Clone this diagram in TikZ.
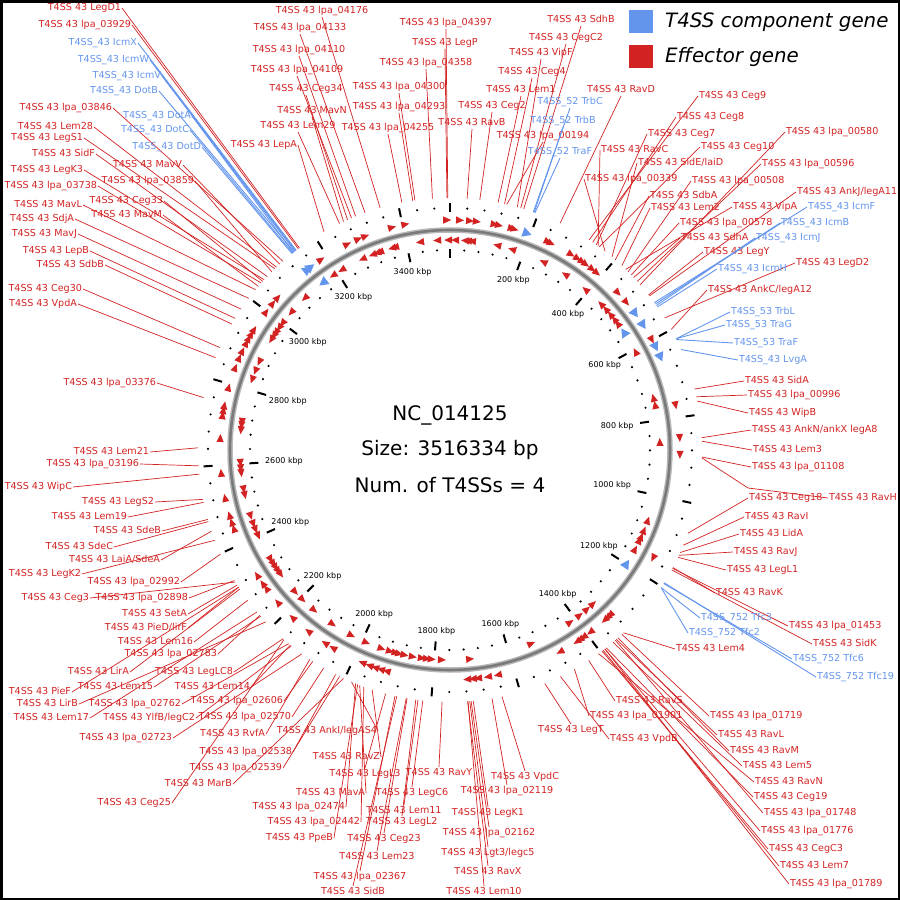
\documentclass[tikz,border=0pt]{standalone}
\usepackage{fontspec}
\setmainfont{DejaVu Sans}
\definecolor{effred}{RGB}{211,34,34}
\definecolor{compblue}{RGB}{100,149,237}
\begin{document}
\begin{tikzpicture}[x=1pt, y=-1pt,
    lab/.style = {font=\fontsize{9.6}{11}\selectfont, inner sep=0.8pt, text height=7.3pt, text depth=2.1pt},
    efflab/.style = {lab, text=effred},
    complab/.style = {lab, text=compblue},
    efflead/.style = {draw=effred, line width=0.7pt},
    complead/.style = {draw=compblue, line width=0.9pt},
    kbp/.style = {font=\fontsize{8}{9}\selectfont, inner sep=0.5pt},
    tickln/.style = {line width=2pt, black},
    centre/.style = {font=\fontsize{20}{24}\selectfont},
    legtext/.style = {font=\fontsize{19.8}{22}\selectfont\itshape, anchor=west, inner sep=0pt}
  ]
  \useasboundingbox (0,0) rectangle (900,900);
  \draw[line width=2.5pt] (1.25,1.25) rectangle (898.75,898.75);

  % backbone
  \draw[line width=5.5pt, black!28] (450,450) circle (220);
  \draw[line width=2.6pt, black!52] (450,450) circle (220);

  % ticks every 40 kbp, dashes every 200 kbp
  \foreach \k in {0,40,...,3480} {
    \pgfmathsetmacro\a{\k/3516.334*360}
    \pgfmathtruncatemacro\m{mod(\k,200)}
    \ifnum\m=0
      \draw[tickln] ([shift={(450,450)}]\a-90:192) -- ([shift={(450,450)}]\a-90:201);
      \draw[tickln] ([shift={(450,450)}]\a-90:238) -- ([shift={(450,450)}]\a-90:247);
    \else
      \fill ([shift={(450,450)}]\a-90:200) circle (1.2);
      \fill ([shift={(450,450)}]\a-90:242) circle (1.2);
    \fi
  }
  \foreach \k in {200,400,...,3400} {
    \pgfmathsetmacro\a{\k/3516.334*360}
    \pgfmathsetmacro\an{90-\a}
    \node[kbp, anchor=\an] (kb\k) at ([shift={(450,450)}]\a-90:186) {\k\ kbp};
  }

  % effector genes, outer strand (clockwise) and inner strand
  \foreach \t in {325.9,333.5,336.5,338.4,345.4,348.8,359.3,2.5,5,6.7,11.2,12.3,15.6,16.3,25.2,26.1,31.8,33.7,35.1,36.2,38.2,39.7,46.9,50.1,61.4,78.8,87,91.2,118,135.9,136.8,137.7,142.4,144.5,145.6,146.5,151.4,168,170.5,173,174.3,175.7,196,197.5,199,200.5,202.4,210.6,212.9,218,223.2,228.5,233,234.5,237,250,251.7,253.5,258,264.3,273,278.7,280,281.2,285.8,291,293.6,295.5,297.7,299,300.3,301.6,306.9,309.6,311.5}
    \fill[effred, shift={(450,450)}, rotate=-\t] (4,-230) -- (-4,-233.6) -- (-4,-226.4) -- cycle;
  \foreach \t in {316.3,326.2,329,335.4,338.4,339.7,340.5,344,344.8,351.8,356.5,359.5,1.4,4.1,4.9,6,13,17.2,26.4,33.3,40.2,46,47.9,49.8,51.5,53,62.1,75.6,77.6,87.8,109.6,112.5,114.4,115.5,118.2,137.1,139.3,141.9,145.1,157.2,174.5,182.2,185,186.3,187.7,190.2,192.5,194,195,196.6,199,203.5,208,214,220.3,224.6,227.5,233.7,234.8,236,237.2,238.6,245.9,247.7,249.4,251.7,257.6,259.2,263.7,265,266.5,275.4,276.8,277.7,289.6,292.1,294.8,301.7,303,304,305.6,307.1,310.9}
    \fill[effred, shift={(450,450)}, rotate=-\t] (-4,-210) -- (4,-213.6) -- (4,-206.4) -- cycle;
  % T4SS components
  \foreach \t in {321.6,322.6,19.5,53.5,57,63.3,66.1}
    \fill[compblue, shift={(450,450)}, rotate=-\t] (5,-230) -- (-4,-235) -- (-4,-225) -- cycle;
  \foreach \t in {322.9,56,122.9}
    \fill[compblue, shift={(450,450)}, rotate=-\t] (-5,-210) -- (4,-215) -- (4,-205) -- cycle;

  % effector labels: angle / x / y / anchor / name
  \foreach \t/\x/\y/\an/\txt [count=\i] in {
    323.3/122/8/east/LegD1, 323.0/132/25/east/lpa\_03929, 318.5/113/108/east/lpa\_03846,
    316.5/94/127/east/Lem28, 316.0/84/138/east/LegS1, 313.5/96/154/east/SidF,
    317.5/183/165/east/MavV, 312.5/84/170/east/LegK3, 315.0/195/181/east/lpa\_03859,
    311.5/98/186/east/lpa\_03738, 312.0/164/201/east/Ceg33, 309.5/83/205/east/MavL,
    310.5/163/215/east/MavM, 307.0/75/219/east/SdjA, 304.0/78/234/east/MavJ,
    301.5/90/251/east/LepB, 300.0/105/265/east/SdbB, 294.0/83/289/east/Ceg30,
    291.5/78/304/east/VpdA, 282.0/157/383/east/lpa\_03376, 330.0/298/145/east/LepA,
    270.5/150/452/east/Lem21, 266.4/140/464/east/lpa\_03196, 264.5/73/487/east/WipC,
    258.7/155/502/east/LegS2, 258.0/128/517/east/Lem19, 254.0/162/531/east/SdeB,
    253.5/114/547/east/SdeC, 251.2/161/560/east/{LaiA/SdeA}, 249.0/82/574/east/LegK2,
    245.6/181/582/east/lpa\_02992, 238.4/90/598/east/Ceg3, 238.8/189/598/east/lpa\_02898,
    237.6/188/614/east/SetA, 237.0/188/628/east/{PieD/lirF}, 233.4/194/642/east/Lem16,
    229.0/218/654/east/lpa\_02783, 236.5/130/672/east/LirA, 221.5/234/672/east/LegLC8,
    237.0/72/692/east/PieF, 227.0/79/704/east/LirB, 230.0/90/718/east/Lem17,
    228.7/154/687/east/Lem15, 219.8/182/704/east/lpa\_02762, 219.0/196/718/east/{YlfB/legC2},
    216.0/173/738/east/lpa\_02723, 219.3/251/687/east/Lem14, 213.0/284/701/east/lpa\_02606,
    210.1/292/717/east/lpa\_02570, 213.8/266/734/east/RvfA, 207.0/293/752/east/lpa\_02538,
    206.0/283/768/east/lpa\_02539, 205.0/233/784/east/MarB, 221.2/172/803/east/Ceg25,
    203.0/378/731/east/{AnkI/legAS4}, 198.0/381/757/east/RavZ, 201.0/366/793/east/MavA,
    202.0/346/807/east/lpa\_02474, 200.0/361/822/east/lpa\_02442, 201.5/334/838/east/PpeB,
    343.9/322/17/south/lpa\_04176, 340.3/300/34/south/lpa\_04133, 338.0/299/56/south/lpa\_04110,
    337.0/297/76/south/lpa\_04109, 336.0/306/95/south/Ceg34, 335.0/312/117/south/MavN,
    334.0/298/132/south/Lem29, 349.0/388/134/south/lpa\_04255, 352.0/399/93/south/lpa\_04300,
    351.5/399/113/south/lpa\_04293, 356.0/426/69/south/lpa\_04358, 359.3/445/49/south/LegP,
    359.5/446/29/south/lpa\_04397, 3.9/472/129/south/RavB, 6.8/492/112/south/Ceg2,
    11.0/521/96/south/Lem1, 12.5/532/78/south/Ceg4, 15.5/541/59/south/VipF,
    16.3/566/44/south/CegC2, 17.0/581/26/south/SdhB, 13.0/543/142/south/lpa\_00194,
    25.9/621/96/south/RavD,
    194.8/365/768/north/LegL3, 181.8/439/767/north/RavY, 186.2/412/787/north/LegC6,
    187.3/404/805/north/Lem11, 187.8/402/816/north/LegL2, 189.8/384/833/north/Ceg23,
    190.0/377/851/north/Lem23, 192.6/360/871/north/lpa\_02367, 192.2/353/886/north/SidB,
    168.1/525/771/north/VpdC, 170.4/507/785/north/lpa\_02119, 174.7/488/807/north/LegK1,
    175.2/489/827/north/lpa\_02162, 175.5/488/847/north/{Lgt3/legc5}, 176.0/488/866/north/RavX,
    175.9/484/886/north/Lem10, 157.9/571/724/north/LegT,
    33.5/698/96/west/Ceg9, 34.5/676/117/west/Ceg8, 35.5/647/134/west/Ceg7,
    36.0/600/150/west/RavC, 36.3/700/147/west/Ceg10, 49.0/785/132/west/lpa\_00580,
    40.0/637/163/west/{SidE/laiD}, 48.0/761/164/west/lpa\_00596, 38.0/584/179/west/lpa\_00339,
    45.0/691/181/west/lpa\_00508, 41.0/649/196/west/SdbA, 52.3/796/192/west/{AnkJ/legA11},
    43.0/650/208/west/Lem2, 44.2/732/207/west/VipA, 46.0/679/223/west/lpa\_00578,
    46.8/680/238/west/SdhA, 52.0/703/252/west/LegY, 58.4/795/263/west/LegD2,
    61.4/707/290/west/{AnkC/legA12}, 76.0/744/381/west/SidA, 77.8/747/395/west/lpa\_00996,
    78.8/748/413/west/WipB, 87.2/751/430/west/{AnkN/ankX legA8}, 88.0/752/450/west/Lem3,
    91.6/751/467/west/lpa\_01108, 109.3/748/498/west/Ceg18, 112.2/744/517/west/RavI,
    114.0/739/534/west/LidA, 114.7/733/552/west/RavJ, 115.2/726/570/west/LegL1,
    117.8/715/593/west/RavK, 118.0/788/626/west/lpa\_01453, 118.4/812/644/west/SidK,
    136.5/675/649/west/Lem4, 146.6/615/701/west/RavS, 137.0/709/716/west/lpa\_01719,
    150.4/589/716/west/lpa\_01901, 154.0/609/739/west/VpdB, 138.7/717/735/west/RavL,
    138.2/729/751/west/RavM, 139.7/742/766/west/Lem5, 143.9/754/782/west/RavN,
    141.7/753/797/west/Ceg19, 139.0/763/813/west/lpa\_01748, 142.1/760/831/west/lpa\_01776,
    142.9/768/849/west/CegC3, 142.6/779/866/west/Lem7, 142.1/789/884/west/lpa\_01789} {
    \node[efflab, anchor=\an] (ef\i) at (\x,\y) {T4SS 43 \txt};
    \draw[efflead] (ef\i.\an) -- ([shift={(450,450)}]\t-90:252);
  }
  \node[efflab, anchor=west] (ravh) at (828,498) {T4SS 43 RavH};
  \draw[efflead] (ravh.west) -- (748,488) -- ([shift={(450,450)}]91.8-90:252);

  % T4SS component labels
  \foreach \t/\x/\y/\an/\txt [count=\i] in {
    322.4/138/43/east/43 IcmX, 322.2/150/60/east/43 IcmW, 322.0/162/76/east/43 IcmV,
    321.8/159/91/east/43 DotB, 321.6/192/116/east/43 DotA, 321.4/190/130/east/43 DotC,
    321.2/202/147/east/43 DotD,
    19.3/570/108/south/52 TrbC, 19.5/563/127/south/52 TrbB, 19.7/560/158/south/52 TraF,
    54.2/807/207/west/43 IcmF, 54.6/780/223/west/43 IcmB, 55.0/755/238/west/43 IcmJ,
    55.4/717/269/west/43 IcmH, 63.8/730/312/west/53 TrbL, 63.8/725/325/west/53 TraG,
    64.0/733/343/west/53 TraF, 66.5/738/360/west/43 LvgA,
    123.1/700/618/west/752 Tfc3, 123.1/688/633/west/752 Tfc2, 122.0/792/659/west/752 Tfc6,
    121.8/816/677/west/752 Tfc19} {
    \node[complab, anchor=\an] (cp\i) at (\x,\y) {T4SS\_\txt};
    \draw[complead] (cp\i.\an) -- ([shift={(450,450)}]\t-90:252);
  }

  % centre
  \node[centre] (acc) at (450,415) {NC\_014125};
  \node[centre] (size) at (450,450) {Size: 3516334 bp};
  \node[centre] (num) at (450,485) {Num. of T4SSs = 4};

  % legend
  \fill[compblue] (629,10) rectangle (653,33);
  \fill[effred] (629,45) rectangle (653,68);
  \node[legtext] (legc) at (665,22) {T4SS component gene};
  \node[legtext] (lege) at (665,57) {Effector gene};
\end{tikzpicture}
\end{document}
